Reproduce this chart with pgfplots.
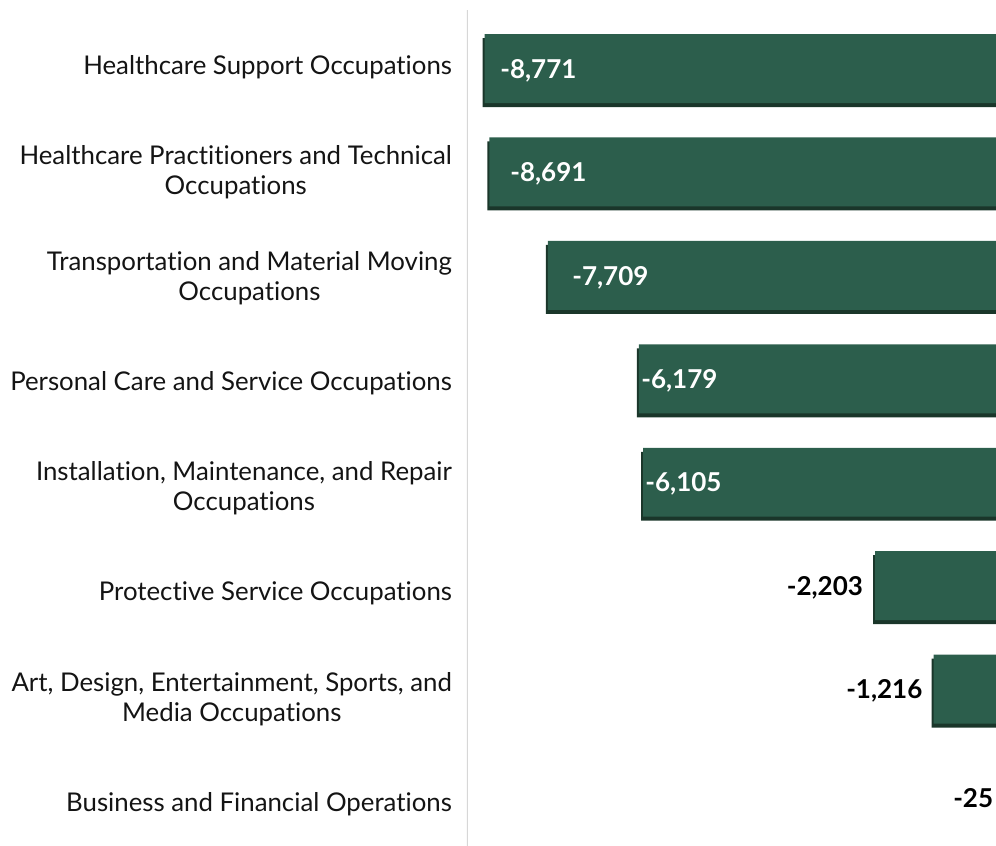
\documentclass[border=0pt]{standalone}
\usepackage{fontspec}
\setmainfont{Lato}[Ligatures=NoCommon]
\usepackage{pgfplots}
\pgfplotsset{compat=1.18}
\usetikzlibrary{calc}
\definecolor{barmain}{RGB}{44,94,76}
\definecolor{barshade}{RGB}{26,54,42}
\definecolor{axisgray}{RGB}{215,215,215}
\definecolor{txt}{RGB}{20,20,20}

% change by occupation (bars run left from zero)
\pgfplotstableread{
pos val
0 -8771
1 -8691
2 -7709
3 -6179
4 -6105
5 -2203
6 -1216
7 -25
}\changes

% value labels inside the long bars
\pgfplotstableread{
pos x lab
0 -8514 -8,771
1 -8346 -8,691
2 -7303 -7,709
3 -6142 -6,179
4 -6074 -6,105
}\inlabels

% value labels left of the short bars
\pgfplotstableread{
pos x lab
5 -2400 -2,203
6 -1400 -1,216
7.03 -210 -25
}\outlabels

\begin{document}
\begin{tikzpicture}
\begin{axis}[
  name=ax,
  scale only axis,
  width=269.5pt, height=418pt,
  xmin=-9069, xmax=0,
  ymin=-0.566, ymax=7.517,
  y dir=reverse,
  axis line style={draw=none},
  xtick=\empty,
  ytick={-0.01,1.006,2.031,3.046,4.062,5.077,6.103,7.118},
  yticklabels={
    Healthcare Support Occupations,
    {Healthcare Practitioners and Technical\\Occupations},
    {Transportation and Material Moving\\Occupations},
    Personal Care and Service Occupations,
    {Installation, Maintenance, and Repair\\Occupations},
    Protective Service Occupations,
    {Art, Design, Entertainment, Sports, and\\Media Occupations},
    Business and Financial Operations},
  major tick length=0pt,
  yticklabel style={align=center, text=txt, font=\fontsize{12.9pt}{15pt}\selectfont, xshift=-4pt, yshift=0.3pt},
  bar width=0.667,
]
\draw[axisgray, line width=1pt] (rel axis cs:0,0) -- (rel axis cs:0,1);
% shadow edge
\addplot[xbar, draw=none, fill=barshade, xshift=-1pt, yshift=-2pt] table[x=val, y=pos] {\changes};
% main bar
\addplot[xbar, draw=none, fill=barmain] table[x=val, y=pos] {\changes};
\addplot[only marks, mark=none, nodes near coords, point meta=explicit symbolic,
  every node near coord/.append style={anchor=west, inner sep=0pt, yshift=-1pt, text=white, font=\fontsize{13pt}{15pt}\selectfont\bfseries}]
  table[x=x, y=pos, meta=lab] {\inlabels};
\addplot[only marks, mark=none, nodes near coords, point meta=explicit symbolic,
  every node near coord/.append style={anchor=east, inner sep=0pt, yshift=-1pt, text=black, font=\fontsize{13pt}{15pt}\selectfont\bfseries}]
  table[x=x, y=pos, meta=lab] {\outlabels};
\end{axis}
\pgfresetboundingbox
\useasboundingbox ($(ax.south west)+(-233.5pt,0)$) rectangle ($(ax.north east)+(-5pt,5pt)$);
\end{tikzpicture}
\end{document}
